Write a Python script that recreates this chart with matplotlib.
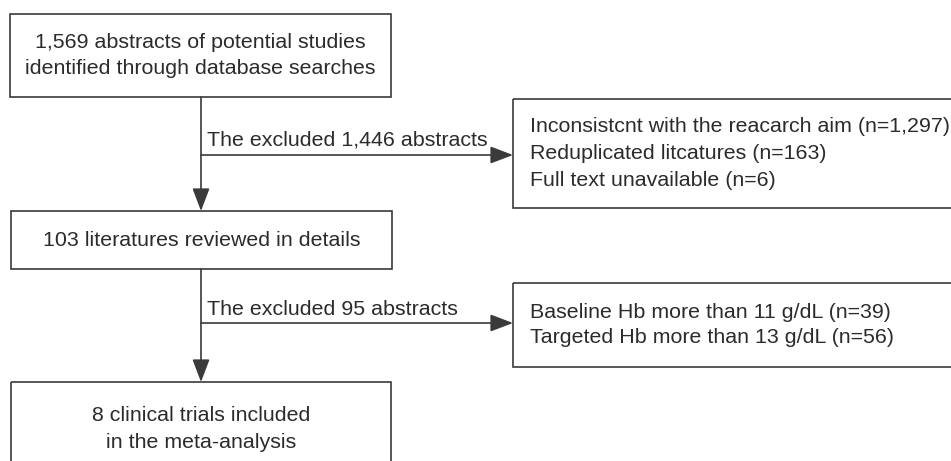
import matplotlib
matplotlib.use("Agg")
import matplotlib.pyplot as plt
from matplotlib.patches import Rectangle

plt.rcParams['font.family'] = ['Liberation Sans', 'DejaVu Sans']

# Flowchart content
main_texts = [
    ["1,569 abstracts of potential studies", "identified through database searches"],
    ["103 literatures reviewed in details"],
    ["8 clinical trials included", "in the meta-analysis"],
]
exclusion_labels = ["The excluded 1,446 abstracts", "The excluded 95 abstracts"]
exclusion_reasons = [
    ["Inconsistcnt with the reacarch aim (n=1,297)",
     "Reduplicated litcatures (n=163)",
     "Full text unavailable (n=6)"],
    ["Baseline Hb more than 11 g/dL (n=39)",
     "Targeted Hb more than 13 g/dL (n=56)"],
]

# Layout (pixel coordinates)
W, H = 951, 461
main_boxes = [(10, 14, 391, 97), (11, 211, 392, 269), (11, 382, 391, 475)]
main_line_y = [[43, 68], [240], [415, 442]]
side_boxes = [(513, 99, 960, 208), (513, 283, 960, 367)]
side_line_y = [[126, 153, 180], [312, 337]]
arrow_y = [155, 323]
label_y = [140, 309]
stem_x = 201

ink = '#2b2b2b'
edge = '#3a3a3a'
fs = 15.4

fig = plt.figure(figsize=(W / 100, H / 100), dpi=100)
ax = fig.add_axes([0, 0, 1, 1])
ax.set_xlim(0, W)
ax.set_ylim(H, 0)
ax.axis('off')

def box(b):
    x0, y0, x1, y1 = b
    ax.add_patch(Rectangle((x0, y0), x1 - x0, y1 - y0, fill=False,
                           edgecolor=edge, linewidth=1.2, clip_on=True))

for b, lines, ys in zip(main_boxes, main_texts, main_line_y):
    box(b)
    cx = (b[0] + b[2]) / 2
    for t, y in zip(lines, ys):
        ax.text(cx, y, t, ha='center', va='center', fontsize=fs, color=ink)

for b, lines, ys in zip(side_boxes, exclusion_reasons, side_line_y):
    box(b)
    for t, y in zip(lines, ys):
        ax.text(b[0] + 17, y, t, ha='left', va='center', fontsize=fs, color=ink)

aprops = dict(arrowstyle='-|>,head_length=1.0,head_width=0.38', color=edge,
              lw=1.2, shrinkA=0, shrinkB=0, mutation_scale=14)

# vertical arrows between main boxes
for i in range(2):
    ax.annotate('', xy=(stem_x, main_boxes[i + 1][1]), xytext=(stem_x, main_boxes[i][3]),
                arrowprops=aprops)

# horizontal arrows to exclusion boxes
for i in range(2):
    ax.annotate('', xy=(side_boxes[i][0], arrow_y[i]), xytext=(stem_x, arrow_y[i]),
                arrowprops=aprops)
    ax.text(stem_x + 6, label_y[i], exclusion_labels[i], ha='left', va='center',
            fontsize=fs, color=ink)

fig.savefig('out.png', dpi=100, facecolor='white')
